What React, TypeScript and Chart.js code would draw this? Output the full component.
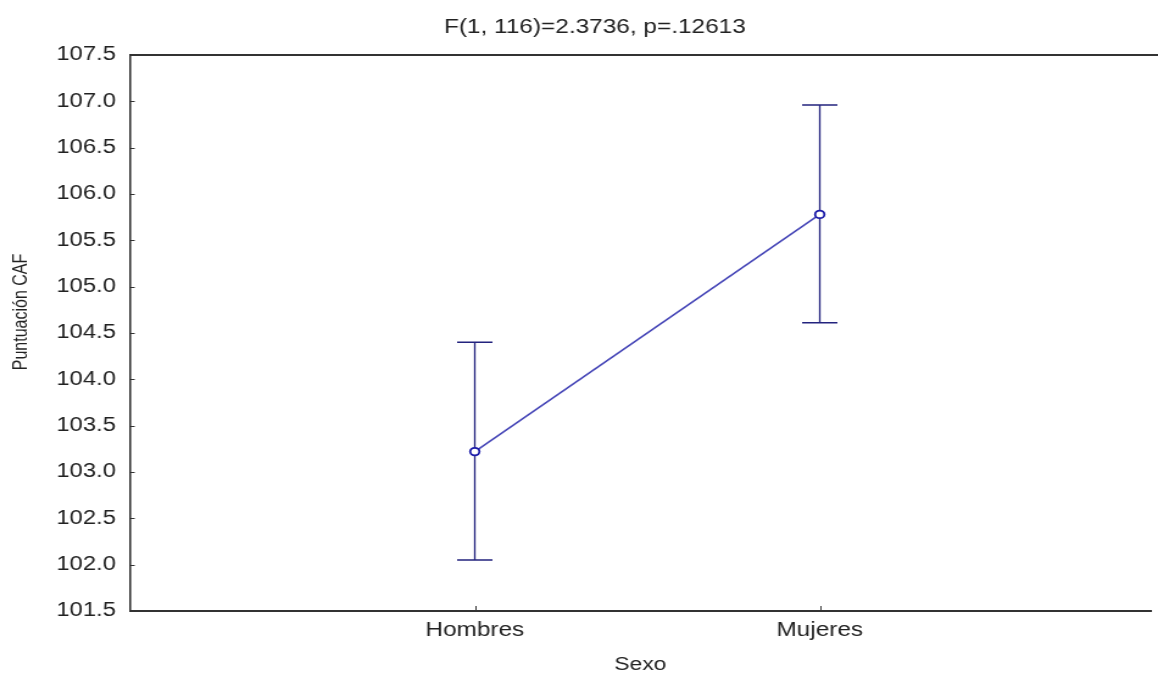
import React, { useEffect, useRef } from "react";
import { Chart, registerables } from "chart.js";

Chart.register(...registerables);

const categories = ["Hombres", "Mujeres"];
const means = [103.22, 105.78];
const upperCI = [104.4, 106.96];
const lowerCI = [102.05, 104.61];
const yTickMin = 101.5;
const yTickMax = 107.5;
const yTickStep = 0.5;
const titleText = "F(1, 116)=2.3736, p=.12613";
const xLabel = "Sexo";
const yLabel = "Puntuación CAF";

const FONT = "'Liberation Sans', Arial, sans-serif";
const INTERNAL_W = 950;
const H = 675;

const errorBarPlugin = {
  id: "errorBars",
  beforeDatasetsDraw(chart: any) {
    const { ctx, scales } = chart;
    const xs = scales.x;
    const ys = scales.y;
    ctx.save();
    ctx.strokeStyle = "#23237e";
    categories.forEach((_, i) => {
      const x = xs.getPixelForValue(i + 1);
      const yTop = ys.getPixelForValue(upperCI[i]);
      const yBot = ys.getPixelForValue(lowerCI[i]);
      const cap = 14.5;
      ctx.lineWidth = 1.3;
      ctx.beginPath();
      ctx.moveTo(x, yTop);
      ctx.lineTo(x, yBot);
      ctx.stroke();
      ctx.lineWidth = 1.6;
      ctx.beginPath();
      ctx.moveTo(x - cap, yTop);
      ctx.lineTo(x + cap, yTop);
      ctx.moveTo(x - cap, yBot);
      ctx.lineTo(x + cap, yBot);
      ctx.stroke();
    });
    ctx.restore();
  },
  afterDraw(chart: any) {
    const { ctx, chartArea, scales } = chart;
    ctx.save();
    ctx.strokeStyle = "#333";
    // top frame line
    ctx.lineWidth = 2;
    ctx.beginPath();
    ctx.moveTo(chartArea.left, chartArea.top);
    ctx.lineTo(chart.width, chartArea.top);
    ctx.stroke();
    // inward tick marks
    ctx.lineWidth = 1;
    ctx.beginPath();
    scales.y.ticks.forEach((t: any) => {
      const y = Math.round(scales.y.getPixelForValue(t.value)) + 0.5;
      ctx.moveTo(chartArea.left, y);
      ctx.lineTo(chartArea.left + 4, y);
    });
    scales.x.ticks.forEach((t: any) => {
      const x = Math.round(scales.x.getPixelForValue(t.value)) + 0.5;
      ctx.moveTo(x, chartArea.bottom);
      ctx.lineTo(x, chartArea.bottom - 5);
    });
    ctx.stroke();
    // y axis label
    ctx.translate(17.5, 312);
    ctx.rotate(-Math.PI / 2);
    ctx.fillStyle = "#222";
    ctx.font = `16px ${FONT}`;
    ctx.textAlign = "center";
    ctx.textBaseline = "middle";
    ctx.fillText(yLabel, 0, 0);
    ctx.restore();
  },
};

export default function App() {
  const ref = useRef<HTMLCanvasElement | null>(null);

  useEffect(() => {
    if (!ref.current) return;
    const chart = new Chart(ref.current, {
      type: "line",
      data: {
        datasets: [
          {
            data: means.map((m, i) => ({ x: i + 1, y: m })),
            borderColor: "#4343b6",
            borderWidth: 1.5,
            pointRadius: 3.8,
            pointBorderWidth: 1.8,
            pointBorderColor: "#1a1aa8",
            pointBackgroundColor: "#ffffff",
            tension: 0,
          },
        ],
      },
      options: {
        responsive: false,
        animation: false,
        devicePixelRatio: 1,
        layout: { padding: { left: 26, right: 0, top: 0, bottom: 0 } },
        plugins: {
          legend: { display: false },
          tooltip: { enabled: false },
          title: {
            display: true,
            text: titleText,
            color: "#222",
            font: { family: FONT, size: 20, weight: "normal" },
            padding: { top: 15, bottom: 16 },
          },
        },
        scales: {
          x: {
            type: "linear",
            min: 0,
            max: 2.96,
            afterBuildTicks(scale: any) {
              scale.ticks = categories.map((_, i) => ({ value: i + 1 }));
            },
            afterFit(scale: any) {
              scale.height = 64;
            },
            ticks: {
              callback: (v: any) => categories[Number(v) - 1] ?? "",
              color: "#222",
              font: { family: FONT, size: 20 },
              padding: 7.5,
              maxRotation: 0,
            },
            grid: { display: true, drawOnChartArea: false, drawTicks: false },
            border: { display: true, color: "#333", width: 2 },
            title: {
              display: true,
              text: xLabel,
              color: "#222",
              font: { family: FONT, size: 18.7, lineHeight: 1 },
              padding: { top: 0, bottom: 1 },
            },
          },
          y: {
            type: "linear",
            min: yTickMin,
            max: yTickMax,
            afterFit(scale: any) {
              scale.width = 80.5;
            },
            ticks: {
              stepSize: yTickStep,
              callback: (v: any) => Number(v).toFixed(1),
              color: "#222",
              font: { family: FONT, size: 19.5 },
              padding: 11.5,
            },
            grid: { display: true, drawOnChartArea: false, drawTicks: false },
            border: { display: true, color: "#333", width: 1.6 },
          },
        },
      },
      plugins: [errorBarPlugin],
    } as any);
    return () => chart.destroy();
  }, []);

  return (
    <div style={{ position: "absolute", left: 0, top: 0, width: "1158px", height: `${H}px`, background: "#fff" }}>
      <canvas
        ref={ref}
        width={INTERNAL_W}
        height={H}
        style={{ width: "1158px", height: `${H}px`, display: "block" }}
      />
    </div>
  );
}
